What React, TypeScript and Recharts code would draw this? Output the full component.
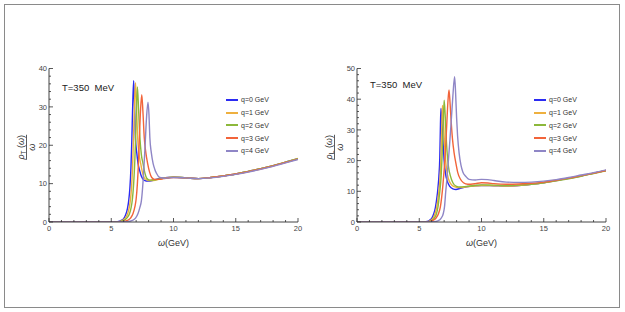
import React from 'react';
import { LineChart, Line, XAxis, YAxis, Legend } from 'recharts';

type Pt = [number, number];

const seriesNames = ['q=0 GeV', 'q=1 GeV', 'q=2 GeV', 'q=3 GeV', 'q=4 GeV'];
const seriesColors = ['#2b2bf2', '#eeb03f', '#8cb83b', '#f2643a', '#8f86c6'];

const xTicks = [0, 1, 2, 3, 4, 5, 6, 7, 8, 9, 10, 11, 12, 13, 14, 15, 16, 17, 18, 19, 20];
const yTicksT = [0, 2, 4, 6, 8, 10, 12, 14, 16, 18, 20, 22, 24, 26, 28, 30, 32, 34, 36, 38, 40];
const yTicksL = [0, 2, 4, 6, 8, 10, 12, 14, 16, 18, 20, 22, 24, 26, 28, 30, 32, 34, 36, 38, 40, 42, 44, 46, 48, 50];

// transverse, rho_T / omega
const rhoT_q0: Pt[] = [
  [0, 0], [5, 0], [5.5, 0.1], [5.8, 0.4], [6.0, 0.9], [6.15, 1.8], [6.3, 3.5], [6.4, 5.5], [6.5, 9],
  [6.58, 14], [6.65, 21], [6.72, 30], [6.8, 36.8], [6.87, 30], [6.94, 22], [7.05, 18], [7.15, 15.3],
  [7.3, 13.2], [7.42, 11.9], [7.6, 11.0], [7.8, 10.7], [8.1, 10.7], [8.5, 11.0], [9.0, 11.4], [9.5, 11.6],
  [10, 11.7], [11, 11.5], [12, 11.3], [13, 11.6], [14, 12.0], [15, 12.5], [16, 13.2], [17, 13.9],
  [18, 14.7], [19, 15.6], [20, 16.5],
];
const rhoT_q1: Pt[] = [
  [0, 0], [5, 0], [5.6, 0.1], [5.9, 0.4], [6.1, 0.9], [6.28, 1.8], [6.43, 3.5], [6.53, 5.5], [6.63, 9],
  [6.71, 14], [6.78, 21], [6.86, 30], [6.95, 36.3], [7.03, 30], [7.12, 22], [7.22, 18], [7.36, 15.3],
  [7.5, 13], [7.7, 11.3], [8.0, 10.8], [8.4, 10.8], [8.8, 11.1], [9.2, 11.4], [10, 11.7], [11, 11.5],
  [12, 11.3], [13, 11.6], [14, 12.0], [15, 12.5], [16, 13.2], [17, 13.9], [18, 14.7], [19, 15.6], [20, 16.6],
];
const rhoT_q2: Pt[] = [
  [0, 0], [5, 0], [5.7, 0.1], [6.0, 0.4], [6.25, 1.0], [6.45, 2], [6.6, 3.8], [6.7, 6], [6.8, 10],
  [6.88, 15], [6.95, 21], [7.02, 29], [7.1, 35.2], [7.2, 29], [7.3, 22], [7.42, 17.5], [7.55, 15.3],
  [7.7, 12.8], [7.85, 11.4], [8.1, 10.9], [8.5, 11.0], [9.0, 11.3], [9.5, 11.5], [10, 11.7], [11, 11.5],
  [12, 11.3], [13, 11.6], [14, 12.0], [15, 12.5], [16, 13.2], [17, 13.9], [18, 14.7], [19, 15.6], [20, 16.5],
];
const rhoT_q3: Pt[] = [
  [0, 0], [5, 0], [5.9, 0.1], [6.3, 0.4], [6.55, 1.0], [6.75, 2.2], [6.9, 4], [7.0, 6], [7.1, 10],
  [7.18, 15], [7.25, 21], [7.35, 29], [7.45, 33.2], [7.54, 29], [7.65, 22], [7.78, 18], [7.92, 15.3],
  [8.08, 13], [8.25, 11.6], [8.5, 11.1], [8.8, 11.1], [9.2, 11.3], [10, 11.6], [11, 11.5], [12, 11.3],
  [13, 11.6], [14, 12.0], [15, 12.5], [16, 13.1], [17, 13.8], [18, 14.6], [19, 15.5], [20, 16.4],
];
const rhoT_q4: Pt[] = [
  [0, 0], [5, 0], [6.3, 0.1], [6.7, 0.4], [6.95, 1.0], [7.15, 2.2], [7.3, 3.8], [7.42, 5.5], [7.52, 9],
  [7.62, 14], [7.72, 20], [7.83, 27], [7.95, 31.2], [8.03, 28], [8.1, 22], [8.22, 18], [8.36, 15.3],
  [8.5, 13.7], [8.63, 12.7], [8.9, 11.6], [9.3, 11.4], [10, 11.6], [11, 11.5], [12, 11.3], [13, 11.5],
  [14, 11.9], [15, 12.4], [16, 13.0], [17, 13.7], [18, 14.5], [19, 15.4], [20, 16.3],
];

// longitudinal, rho_L / omega
const rhoL_q0: Pt[] = [
  [0, 0], [5, 0], [5.5, 0.1], [5.8, 0.5], [6.0, 1.2], [6.15, 2.5], [6.3, 4.8], [6.42, 8], [6.5, 11],
  [6.58, 15], [6.65, 21], [6.69, 29], [6.74, 37], [6.81, 33], [6.9, 27], [7.0, 20], [7.1, 16],
  [7.25, 13.3], [7.45, 11.6], [7.7, 10.8], [7.95, 10.6], [8.3, 11.0], [8.8, 11.5], [9.5, 11.8],
  [10, 11.9], [11, 11.8], [12, 11.7], [13, 11.9], [14, 12.3], [15, 12.8], [16, 13.5], [17, 14.2],
  [18, 15.0], [19, 15.9], [20, 16.8],
];
const rhoL_q1: Pt[] = [
  [0, 0], [5, 0], [5.6, 0.1], [5.9, 0.5], [6.1, 1.2], [6.25, 2.5], [6.4, 4.8], [6.52, 8], [6.6, 11],
  [6.68, 15], [6.74, 21], [6.8, 30], [6.86, 38], [6.93, 34], [7.0, 28], [7.1, 21], [7.2, 17],
  [7.35, 14], [7.55, 12.3], [7.8, 11.5], [8.2, 11.2], [8.7, 11.4], [9.3, 11.7], [10, 11.9], [11, 11.8],
  [12, 11.7], [13, 11.9], [14, 12.3], [15, 12.8], [16, 13.5], [17, 14.2], [18, 15.0], [19, 15.9], [20, 16.8],
];
const rhoL_q2: Pt[] = [
  [0, 0], [5, 0], [5.7, 0.1], [6.0, 0.5], [6.2, 1.2], [6.37, 2.5], [6.5, 4.8], [6.6, 8], [6.68, 11],
  [6.76, 15], [6.83, 21], [6.92, 31], [7.0, 39.7], [7.08, 35], [7.16, 28], [7.25, 22], [7.35, 18],
  [7.5, 15], [7.7, 12.8], [7.95, 11.7], [8.3, 11.4], [8.8, 11.6], [9.4, 11.9], [10, 12.1], [11, 12.0],
  [12, 11.9], [13, 12.0], [14, 12.3], [15, 12.8], [16, 13.4], [17, 14.1], [18, 14.9], [19, 15.8], [20, 16.7],
];
const rhoL_q3: Pt[] = [
  [0, 0], [5, 0], [5.8, 0.1], [6.1, 0.5], [6.35, 1.3], [6.55, 2.8], [6.7, 5], [6.8, 8], [6.9, 12],
  [7.0, 17], [7.1, 23], [7.2, 31], [7.3, 39], [7.39, 43], [7.47, 39], [7.56, 33], [7.67, 27],
  [7.8, 22.5], [7.95, 19], [8.1, 16], [8.3, 14], [8.55, 12.8], [8.9, 12.3], [9.5, 12.5], [10, 12.8],
  [10.5, 12.7], [11, 12.5], [12, 12.3], [13, 12.4], [14, 12.6], [15, 13.0], [16, 13.6], [17, 14.3],
  [18, 15.1], [19, 15.9], [20, 16.8],
];
const rhoL_q4: Pt[] = [
  [0, 0], [5, 0], [6.2, 0.1], [6.5, 0.4], [6.75, 1.2], [6.92, 2.6], [7.03, 5], [7.13, 10], [7.22, 14],
  [7.34, 20], [7.45, 26], [7.57, 33], [7.7, 41], [7.84, 47.3], [7.92, 42], [8.0, 34], [8.08, 28],
  [8.2, 22.5], [8.35, 18.5], [8.5, 16.3], [8.75, 14.8], [9.0, 13.9], [9.5, 13.7], [10, 13.9],
  [10.5, 13.8], [11, 13.5], [12, 13.0], [13, 12.9], [14, 13.0], [15, 13.3], [16, 13.8], [17, 14.5],
  [18, 15.3], [19, 16.1], [20, 17.0],
];

const FONT = '"Liberation Sans", Arial, sans-serif';
const FRAME = '#2e2e2e';

const BottomTick = (props: any) => {
  const { x, y, payload } = props;
  const major = payload.value % 5 === 0;
  return (
    <g>
      <line x1={x} x2={x} y1={y} y2={y - (major ? 4 : 2)} stroke={FRAME} strokeWidth={0.8} />
      {major && (
        <text x={x} y={y + 8.5} textAnchor="middle" fontSize={7.5} fill="#444" fontFamily={FONT}>
          {payload.value}
        </text>
      )}
    </g>
  );
};

const TopTick = (props: any) => {
  const { x, y, payload } = props;
  const major = payload.value % 5 === 0;
  return <line x1={x} x2={x} y1={y} y2={y + (major ? 4 : 2)} stroke={FRAME} strokeWidth={0.8} />;
};

const LeftTick = (props: any) => {
  const { x, y, payload } = props;
  const major = payload.value % 10 === 0;
  return (
    <g>
      <line x1={x} x2={x + (major ? 4 : 2)} y1={y} y2={y} stroke={FRAME} strokeWidth={0.8} />
      {major && (
        <text x={x - 2} y={y + 2.7} textAnchor="end" fontSize={7.5} fill="#444" fontFamily={FONT}>
          {payload.value}
        </text>
      )}
    </g>
  );
};

const RightTick = (props: any) => {
  const { x, y, payload } = props;
  const major = payload.value % 10 === 0;
  return <line x1={x} x2={x - (major ? 4 : 2)} y1={y} y2={y} stroke={FRAME} strokeWidth={0.8} />;
};

const xLabel = (props: any) => {
  const { x, y, width } = props.viewBox;
  return (
    <text x={x + width / 2} y={y + 24} textAnchor="middle" fontSize={9} fill="#333" fontFamily={FONT}>
      <tspan fontStyle="italic">ω</tspan>(GeV)
    </text>
  );
};

const makeYLabel = (sub: string) => (props: any) => {
  const { x, y, height } = props.viewBox;
  const cx = x + 7.5;
  const cy = y + height / 2 + 2;
  return (
    <g transform={`rotate(-90, ${cx}, ${cy})`} fontFamily={FONT} fill="#333">
      <text x={cx} y={cy - 3} textAnchor="middle" fontSize={9}>
        <tspan fontStyle="italic">ρ</tspan>
        <tspan fontSize={6.5} dy={2}>{sub}</tspan>
        <tspan dy={-2}> (</tspan>
        <tspan fontStyle="italic">ω</tspan>
        <tspan>)</tspan>
      </text>
      <line x1={cx - 12.5} x2={cx + 12.5} y1={cy} y2={cy} stroke="#333" strokeWidth={0.8} />
      <text x={cx} y={cy + 8} textAnchor="middle" fontSize={9} fontStyle="italic">ω</text>
    </g>
  );
};

const legendContent = () => (
  <div style={{ fontFamily: FONT, fontSize: 7, color: '#333' }}>
    {seriesNames.map((n, i) => (
      <div key={n} style={{ height: 12.7, display: 'flex', alignItems: 'center' }}>
        <div style={{ width: 12, height: 2, background: seriesColors[i], marginRight: 3 }} />
        <span>{n}</span>
      </div>
    ))}
  </div>
);

interface PanelProps {
  series: Pt[][];
  yMax: number;
  yTicks: number[];
  sub: string;
  left: number;
  titleTop: number;
}

const Panel = ({ series, yMax, yTicks, sub, left, titleTop }: PanelProps) => {
  const axisLine = { stroke: FRAME, strokeWidth: 0.9 };
  return (
    <div style={{ position: 'absolute', left, top: 0, width: 310, height: 312 }}>
      <LineChart width={310} height={312} margin={{ top: 68.5, right: 12, bottom: 70, left: 19 }}>
        <XAxis
          dataKey="w"
          type="number"
          domain={[0, 20]}
          ticks={xTicks}
          interval={0}
          allowDataOverflow
          tick={<BottomTick />}
          tickLine={false}
          tickSize={0}
          tickMargin={0}
          axisLine={axisLine}
          height={20}
          label={xLabel}
        />
        <XAxis
          xAxisId="top"
          orientation="top"
          type="number"
          domain={[0, 20]}
          ticks={xTicks}
          interval={0}
          tick={<TopTick />}
          tickLine={false}
          tickSize={0}
          tickMargin={0}
          axisLine={axisLine}
          height={0}
        />
        <YAxis
          type="number"
          domain={[0, yMax]}
          ticks={yTicks}
          interval={0}
          allowDataOverflow
          tick={<LeftTick />}
          tickLine={false}
          tickSize={0}
          tickMargin={0}
          axisLine={axisLine}
          width={30}
          label={makeYLabel(sub)}
        />
        <YAxis
          yAxisId="right"
          orientation="right"
          type="number"
          domain={[0, yMax]}
          ticks={yTicks}
          interval={0}
          tick={<RightTick />}
          tickLine={false}
          tickSize={0}
          tickMargin={0}
          axisLine={axisLine}
          width={0}
        />
        <Legend
          layout="vertical"
          align="center"
          verticalAlign="middle"
          wrapperStyle={{ left: 226, top: 93.6, width: 70 }}
          content={legendContent}
        />
        {series.map((s, i) => (
          <Line
            key={seriesNames[i]}
            data={s.map(([w, v]) => ({ w, v }))}
            dataKey="v"
            name={seriesNames[i]}
            type="monotone"
            stroke={seriesColors[i]}
            strokeWidth={1.4}
            dot={false}
            activeDot={false}
            isAnimationActive={false}
          />
        ))}
      </LineChart>
      <div
        style={{
          position: 'absolute',
          left: 62,
          top: titleTop,
          fontFamily: FONT,
          fontSize: 9.5,
          lineHeight: '11px',
          color: '#222',
          whiteSpace: 'pre',
        }}
      >
        T=350  MeV
      </div>
    </div>
  );
};

export default function App() {
  return (
    <div style={{ position: 'absolute', left: 0, top: 0, width: 625, height: 312, background: '#fff' }}>
      <div
        style={{
          position: 'absolute',
          left: 3.5,
          top: 4,
          width: 616.5,
          height: 303.5,
          boxSizing: 'border-box',
          border: '1.5px solid #8a8a8a',
        }}
      />
      <Panel
        series={[rhoT_q0, rhoT_q1, rhoT_q2, rhoT_q3, rhoT_q4]}
        yMax={40}
        yTicks={yTicksT}
        sub="T"
        left={0}
        titleTop={81.5}
      />
      <Panel
        series={[rhoL_q0, rhoL_q1, rhoL_q2, rhoL_q3, rhoL_q4]}
        yMax={50}
        yTicks={yTicksL}
        sub="L"
        left={308}
        titleTop={78.5}
      />
    </div>
  );
}
